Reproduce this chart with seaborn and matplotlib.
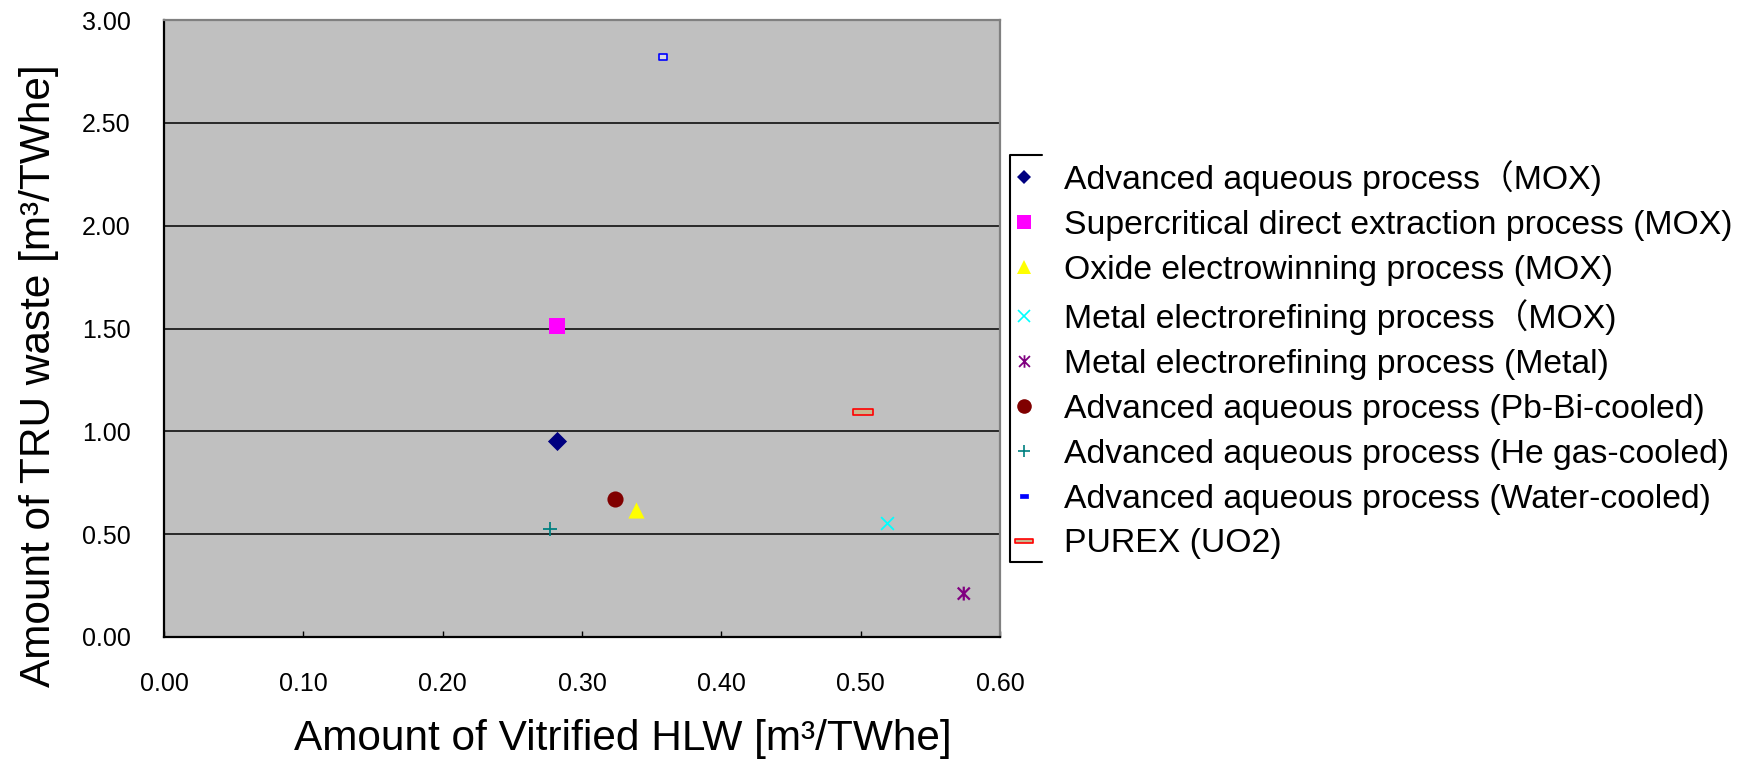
import numpy as np
import pandas as pd
import matplotlib
matplotlib.use("Agg")
import matplotlib.pyplot as plt
import seaborn as sns
from matplotlib.path import Path
from matplotlib.lines import Line2D

# ---------------- data ----------------
labels = [
    "Advanced aqueous process\uff08MOX)",
    "Supercritical direct extraction process (MOX)",
    "Oxide electrowinning process (MOX)",
    "Metal electrorefining process\uff08MOX)",
    "Metal electrorefining process (Metal)",
    "Advanced aqueous process (Pb-Bi-cooled)",
    "Advanced aqueous process (He gas-cooled)",
    "Advanced aqueous process (Water-cooled)",
    "PUREX (UO2)",
]
hlw = [0.282, 0.282, 0.339, 0.519, 0.574, 0.324, 0.277, 0.358, 0.502]
tru = [0.955, 1.51, 0.616, 0.553, 0.211, 0.670, 0.523, 2.82, 1.092]
x_ticks = [0.0, 0.1, 0.2, 0.3, 0.4, 0.5, 0.6]
y_ticks = [0.0, 0.5, 1.0, 1.5, 2.0, 2.5, 3.0]

# ---------------- style ----------------
sns.set_theme(style="white")
plt.rcParams["font.family"] = ["Liberation Sans", "Noto Sans CJK JP"]

asterisk = Path([(-1, -1), (1, 1), (-1, 1), (1, -1), (0, -1.15), (0, 1.15)],
                [Path.MOVETO, Path.LINETO, Path.MOVETO, Path.LINETO, Path.MOVETO, Path.LINETO])
small_rect = Path([(-1, -0.7), (1, -0.7), (1, 0.7), (-1, 0.7), (-1, -0.7)],
                  [Path.MOVETO, Path.LINETO, Path.LINETO, Path.LINETO, Path.CLOSEPOLY])
dash_rect = Path([(-1, -0.4), (1, -0.4), (1, 0.4), (-1, 0.4), (-1, -0.4)],
                 [Path.MOVETO, Path.LINETO, Path.LINETO, Path.LINETO, Path.CLOSEPOLY])
long_rect = Path([(-1, -0.26), (1, -0.26), (1, 0.26), (-1, 0.26), (-1, -0.26)],
                 [Path.MOVETO, Path.LINETO, Path.LINETO, Path.LINETO, Path.CLOSEPOLY])

# per-series marker styling: (marker, face, edge, size s, linewidth)
styles = [
    ("D", "#000080", "#000080", 95, 0.0),
    ("s", "#ff00ff", "#ff00ff", 130, 0.0),
    ("^", "#ffff00", "#ffff00", 135, 0.0),
    ("x", "#00ffff", "#00ffff", 85, 1.3),
    (asterisk, "none", "#800080", 100, 1.6),
    ("o", "#800000", "#800000", 135, 0.0),
    ("+", "#008080", "#008080", 95, 1.3),
    (small_rect, "#d8d8e4", "#0000ff", 30, 1.2),
    (long_rect, "#c8b890", "#ff0000", 200, 1.2),
]
# legend marker styling: (marker, face, edge, markersize, linewidth)
leg_styles = [
    ("D", "#000080", "#000080", 7, 0.0),
    ("s", "#ff00ff", "#ff00ff", 10, 0.0),
    ("^", "#ffff00", "#ffff00", 10.5, 0.0),
    ("x", "#00ffff", "#00ffff", 8.5, 1.2),
    (asterisk, "none", "#800080", 9, 1.3),
    ("o", "#800000", "#800000", 10.5, 0.0),
    ("+", "#008080", "#008080", 8.5, 1.2),
    (dash_rect, "#0000ff", "#0000ff", 5.5, 0.5),
    (long_rect, "#c8b890", "#ff0000", 12.5, 1.2),
]

df = pd.DataFrame({"process": labels, "hlw": hlw, "tru": tru})

fig = plt.figure(figsize=(17.47, 7.63), dpi=100)
ax = fig.add_axes([164 / 1747, 1 - 637 / 763, 836 / 1747, 617 / 763])
ax.set_facecolor("#c0c0c0")

for i in range(len(df)):
    m, fc, ec, s, lw = styles[i]
    sub = df.iloc[[i]]
    if lw == 0:
        sns.scatterplot(data=sub, x="hlw", y="tru", marker=m, color=fc, s=s,
                        linewidth=0, ax=ax, zorder=5, legend=False)
    else:
        sns.scatterplot(data=sub, x="hlw", y="tru", marker=m, s=s,
                        facecolors=fc, edgecolors=ec, linewidths=lw, ax=ax,
                        zorder=5, legend=False)

ax.set_xlim(0, 0.6)
ax.set_ylim(0, 3.0)
ax.set_xticks(x_ticks)
ax.set_yticks(y_ticks)
ax.set_xticklabels([f"{v:.2f}" for v in x_ticks])
ax.set_yticklabels([f"{v:.2f}" for v in y_ticks])
ax.set_xlabel("")
ax.set_ylabel("")
ax.yaxis.grid(True, color="black", linewidth=1.1)
ax.xaxis.grid(False)
ax.set_axisbelow(True)

for side in ["left", "bottom"]:
    ax.spines[side].set_color("black")
    ax.spines[side].set_linewidth(1.6)
for side in ["top", "right"]:
    ax.spines[side].set_color("#808080")
    ax.spines[side].set_linewidth(1.6)
    ax.spines[side].set_visible(True)

ax.tick_params(axis="x", direction="in", length=4, width=1.0, color="black",
               labelsize=18, pad=25, bottom=True)
ax.tick_params(axis="y", length=0, labelsize=18, pad=24, left=True)
for t in ax.get_xticklabels() + ax.get_yticklabels():
    t.set_color("black")

fig.text(623 / 1747, 1 - 739 / 763, "Amount of Vitrified HLW [m\u00b3/TWhe]",
         ha="center", va="center", fontsize=30.5, color="black")
fig.text(39 / 1747, 1 - 376 / 763, "Amount of TRU waste [m\u00b3/TWhe]",
         ha="center", va="center", rotation=90, fontsize=30.5, color="black")

# legend
handles = []
for (m, fc, ec, ms, lw) in leg_styles:
    handles.append(Line2D([], [], linestyle="none", marker=m, markersize=ms,
                          markerfacecolor=fc, markeredgecolor=ec,
                          markeredgewidth=lw))
leg = ax.legend(handles, labels, loc="upper left",
                bbox_to_anchor=(1010 / 1747, 1 - 160 / 763),
                bbox_transform=fig.transFigure, frameon=False,
                fontsize=24.3, handlelength=0.83, handletextpad=0.77,
                labelspacing=0.41, borderpad=0, borderaxespad=0)
for t in leg.get_texts():
    t.set_color("black")

# partial legend frame (bracket)
y_top = 1 - 155 / 763
y_bot = 1 - 562 / 763
x_l = 1010 / 1747
x_r = 1042 / 1747
fig.add_artist(Line2D([x_r, x_l, x_l, x_r], [y_top, y_top, y_bot, y_bot],
                      transform=fig.transFigure, color="black", linewidth=1.5))

fig.savefig("out.png", dpi=100)
